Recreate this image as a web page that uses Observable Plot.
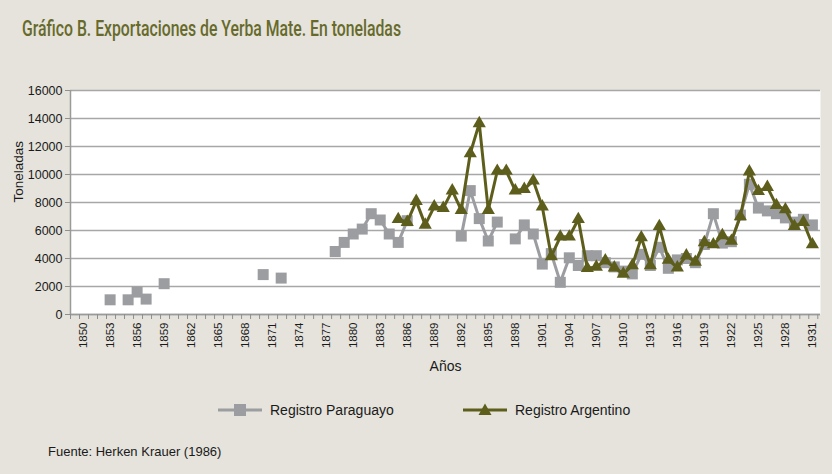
<!DOCTYPE html>
<html>
<head>
<meta charset="utf-8">
<script src="https://cdn.jsdelivr.net/npm/d3@7"></script>
<script src="https://cdn.jsdelivr.net/npm/@observablehq/plot@0.6"></script>
<style>
  html, body { margin: 0; padding: 0; background: #e5e3dc; }
  #wrap { position: relative; width: 832px; height: 474px; background: #e5e3dc; overflow: hidden;
          font-family: "Liberation Sans", Arial, sans-serif; color: #1a1a1a; }
  #title { position: absolute; left: 22px; top: 17px; white-space: nowrap;
           font-family: Roboto, "Liberation Sans", sans-serif; font-weight: 500;
           font-size: 21.5px; line-height: 24px; color: #676a2b; transform-origin: 0 0; }
  #chart { position: absolute; left: 0; top: 70px; }
  #legend { position: absolute; left: 0; top: 398px; width: 832px; height: 24px; }
  .lg { position: absolute; top: 0; height: 24px; display: flex; align-items: center; font-size: 14px; color: #1a1a1a; }
  .lg svg { margin-right: 8px; }
  #caption { position: absolute; left: 48px; top: 444px; font-size: 13px; color: #1a1a1a; white-space: nowrap; }
</style>
</head>
<body>
<div id="wrap">
  <div id="title">Gráfico B. Exportaciones de Yerba Mate. En toneladas</div>
  <div id="chart"></div>
  <div id="legend"></div>
  <div id="caption">Fuente: Herken Krauer (1986)</div>
</div>
<script>
// ---- data ----
const years = [
  1850,1851,1852,1853,1854,1855,1856,1857,1858,1859,
  1860,1861,1862,1863,1864,1865,1866,1867,1868,1869,
  1870,1871,1872,1873,1874,1875,1876,1877,1878,1879,
  1880,1881,1882,1883,1884,1885,1886,1887,1888,1889,
  1890,1891,1892,1893,1894,1895,1896,1897,1898,1899,
  1900,1901,1902,1903,1904,1905,1906,1907,1908,1909,
  1910,1911,1912,1913,1914,1915,1916,1917,1918,1919,
  1920,1921,1922,1923,1924,1925,1926,1927,1928,1929,
  1930,1931
];
const registroParaguayo = [
  null,null,null,1050,null,1050,1600,1100,null,2200,
  null,null,null,null,null,null,null,null,null,null,
  2850,null,2600,null,null,null,null,null,4500,5150,
  5750,6100,7200,6750,5750,5150,6700,null,null,null,
  null,null,5600,8850,6850,5250,6600,null,5400,6400,
  5750,3600,4350,2300,4050,3500,4200,4200,3700,3400,
  3100,2900,4300,3500,4800,3300,3900,4000,3700,5000,
  7200,5100,5200,7100,9300,7600,7400,7200,6900,6600,
  6800,6400
];
const registroArgentino = [
  null,null,null,null,null,null,null,null,null,null,
  null,null,null,null,null,null,null,null,null,null,
  null,null,null,null,null,null,null,null,null,null,
  null,null,null,null,null,6800,6600,8100,6400,7700,
  7600,8850,7450,11500,13650,7450,10250,10250,8850,8950,
  9550,7700,4150,5550,5550,6800,3300,3400,3850,3350,
  2900,3500,5500,3500,6300,3900,3350,4200,3750,5150,
  5000,5650,5250,7000,10200,8800,9100,7800,7500,6300,
  6600,5000
];
const yTicks = [0,2000,4000,6000,8000,10000,12000,14000,16000];
const xLabelYears = [1850,1853,1856,1859,1862,1865,1868,1871,1874,1877,1880,1883,1886,1889,1892,1895,1898,1901,1904,1907,1910,1913,1916,1919,1922,1925,1928,1931];
const seriesNames = ["Registro Paraguayo", "Registro Argentino"];
const seriesColors = ["#9c9da1", "#5e5e1c"];

// ---- build tables ----
const pyRows = years.map((year, i) => ({year, value: registroParaguayo[i] ?? NaN}));
const arRows = years.map((year, i) => ({year, value: registroArgentino[i] ?? NaN}));
const pyDots = pyRows.filter(d => !isNaN(d.value));
const arDots = arRows.filter(d => !isNaN(d.value));

const xMin = 1848.6, xMax = 1931.9;
const boundaryTicks = d3.range(xMin, xMax, 1);

const chart = Plot.plot({
  width: 832,
  height: 310,
  marginLeft: 70,
  marginRight: 12,
  marginTop: 20,
  marginBottom: 66,
  style: {background: "transparent", fontFamily: "Liberation Sans, Arial, sans-serif", color: "#1a1a1a", overflow: "visible"},
  x: {domain: [xMin, xMax], label: null},
  y: {domain: [0, 16000], label: null},
  marks: [
    Plot.frame({fill: "white", stroke: null}),
    Plot.gridY(yTicks, {stroke: "#a7a7a7", strokeOpacity: 1, strokeWidth: 1.5}),
    Plot.axisY(yTicks, {tickSize: 5, tickPadding: 3, fontSize: 12.5, stroke: "#8f8f8f", tickFormat: d => `${d}`, label: null}),
    Plot.ruleX([xMin], {stroke: "#9a9a9a", strokeWidth: 1.5}),
    Plot.ruleY([0], {stroke: "#9a9a9a", strokeWidth: 1.5}),
    Plot.axisX(boundaryTicks, {tickSize: 5, stroke: "#8f8f8f", tickFormat: () => "", label: null}),
    Plot.axisX(xLabelYears, {tickSize: 0, tickPadding: 8, tickRotate: -90, fontSize: 11.5, tickFormat: d => `${d}`, label: null}),
    Plot.line(pyRows, {x: "year", y: "value", stroke: seriesColors[0], strokeWidth: 3}),
    Plot.dot(pyDots, {x: "year", y: "value", symbol: "square", r: 6.2, fill: seriesColors[0], stroke: null}),
    Plot.line(arRows, {x: "year", y: "value", stroke: seriesColors[1], strokeWidth: 3}),
    Plot.dot(arDots, {x: "year", y: "value", symbol: "triangle", r: 4.9, fill: seriesColors[1], stroke: null}),
    Plot.text(["Toneladas"], {frameAnchor: "left", dx: -52, rotate: -90, fontSize: 13.5, fill: "#1a1a1a"}),
    Plot.text(["Años"], {frameAnchor: "bottom", dy: 56, fontSize: 14, fill: "#1a1a1a"})
  ]
});
document.getElementById("chart").appendChild(chart);

// ---- title: condensed to the reference width ----
const title = document.getElementById("title");
const tw = title.getBoundingClientRect().width;
title.style.transform = `scaleX(${379 / tw})`;

// ---- legend ----
const legend = document.getElementById("legend");
const items = [
  {name: seriesNames[0], color: seriesColors[0], left: 218, shape: "square"},
  {name: seriesNames[1], color: seriesColors[1], left: 463, shape: "triangle"}
];
for (const it of items) {
  const div = document.createElement("div");
  div.className = "lg";
  div.style.left = it.left + "px";
  const marker = it.shape === "square"
    ? `<rect x="16" y="6" width="12" height="12" fill="${it.color}"/>`
    : `<path d="M22,5.5 L28.5,17 L15.5,17 Z" fill="${it.color}"/>`;
  div.innerHTML = `<svg width="44" height="24"><line x1="0" x2="44" y1="12" y2="12" stroke="${it.color}" stroke-width="3"/>${marker}</svg><span>${it.name}</span>`;
  legend.appendChild(div);
}
</script>
</body>
</html>
